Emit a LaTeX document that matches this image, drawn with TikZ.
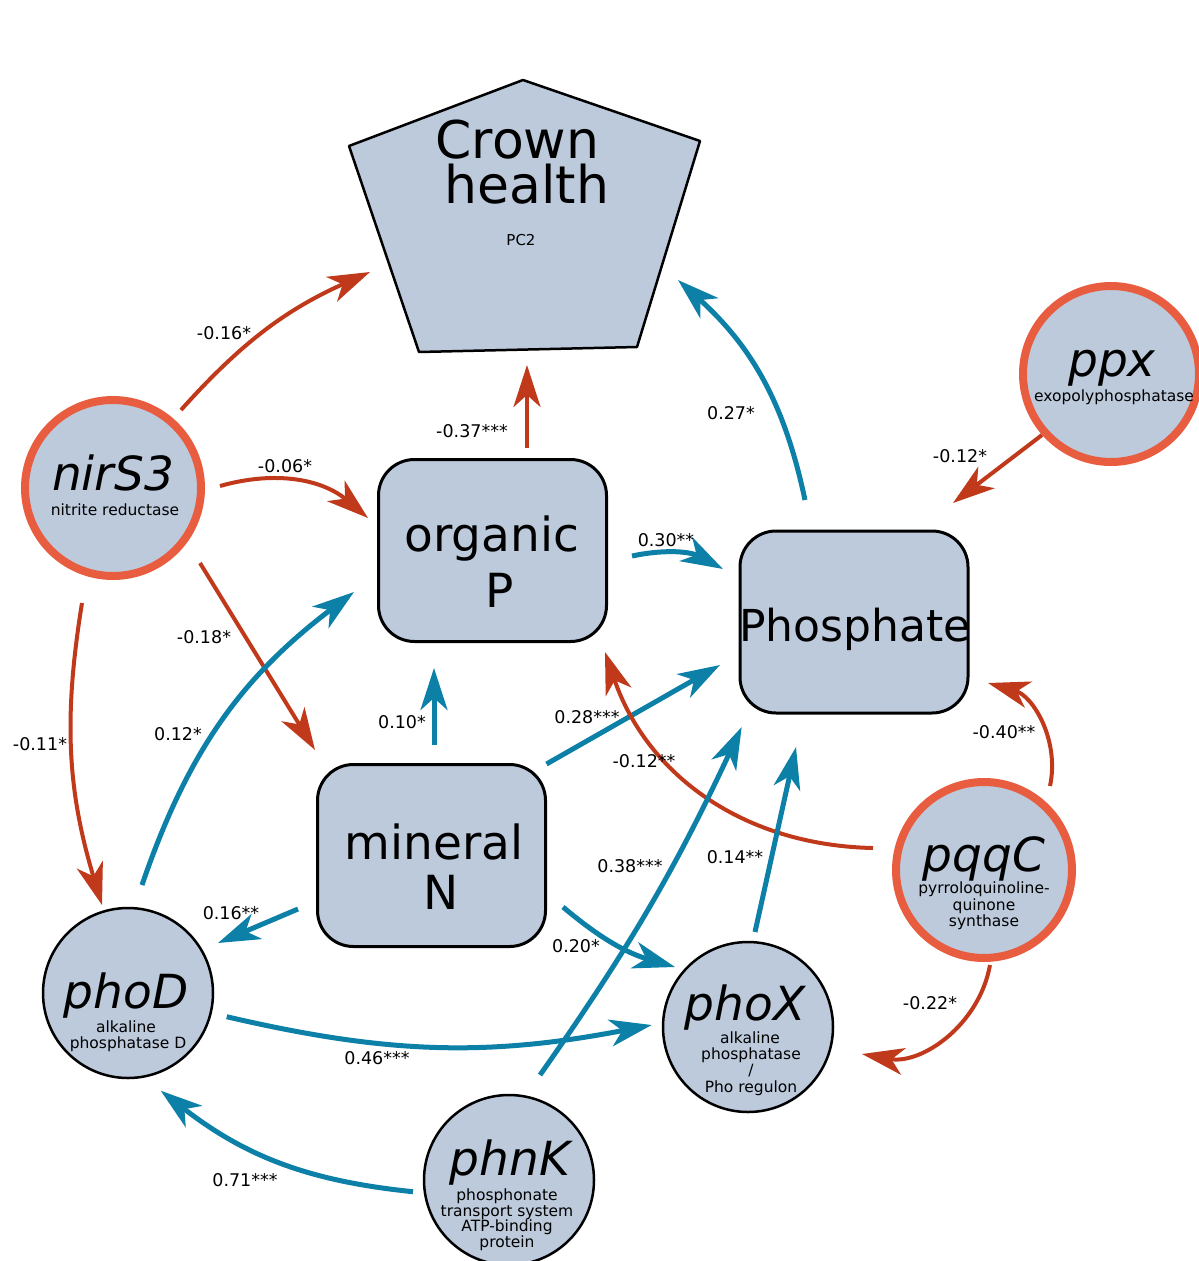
\documentclass[tikz,border=0pt]{standalone}
\usepackage{fontspec}
\setmainfont{DejaVu Sans}
\usetikzlibrary{arrows.meta,calc}
\definecolor{fillc}{HTML}{BCCADC}
\definecolor{ringc}{HTML}{E85D40}
\definecolor{redc}{HTML}{C0391B}
\definecolor{bluec}{HTML}{0D80A8}
\begin{document}
\begin{tikzpicture}[x=1pt,y=1pt,
  genenode/.style={circle,fill=fillc,draw=black,line width=2.5pt,minimum size=170pt,inner sep=0pt},
  ringnode/.style={circle,fill=fillc,draw=ringc,line width=8pt,minimum size=176pt,inner sep=0pt},
  varbox/.style={rectangle,rounded corners=36pt,fill=fillc,draw=black,line width=3pt,minimum width=228pt,minimum height=182pt,inner sep=0pt},
  gtitle/.style={font=\fontsize{47}{47}\selectfont\itshape,anchor=base,inner sep=0pt},
  gsub/.style={font=\fontsize{15.5}{16.5}\selectfont,anchor=base,inner sep=0pt},
  boxtxt/.style={font=\fontsize{47}{47}\selectfont,anchor=base,inner sep=0pt},
  elab/.style={font=\fontsize{17.5}{18}\selectfont,inner sep=0pt},
  tipstyle/.style={-{Stealth[length=42pt,width=27pt,inset=12pt]}},
  negarr/.style={draw=redc,line width=4pt,tipstyle},
  posarr/.style={draw=bluec,line width=5pt,tipstyle},
]
\useasboundingbox (0,0) rectangle (1199,-1261);

% Crown health pentagon
\coordinate (crown) at (525,-213);
\draw[fill=fillc,line width=2.5pt,line join=round] (523,-80) -- (700,-141) -- (637,-347) -- (419,-352) -- (349,-146) -- cycle;
\node[font=\fontsize{52}{52}\selectfont,anchor=base,inner sep=0pt] (crownA) at (517.5,-158) {Crown};
\node[font=\fontsize{52}{52}\selectfont,anchor=base,inner sep=0pt] (crownB) at (527,-203) {health};
\node[font=\fontsize{15}{15}\selectfont,anchor=base,inner sep=0pt] (pc2) at (521,-245) {PC2};

% gene nodes
\node[ringnode] (nirS3) at (113,-488) {};
\node[ringnode] (ppx) at (1111,-374) {};
\node[ringnode] (pqqC) at (984,-870) {};
\node[genenode] (phoD) at (128,-993) {};
\node[genenode] (phoX) at (748,-1027) {};
\node[genenode] (phnK) at (509,-1180) {};

% variable boxes
\node[varbox] (orgP) at (492.5,-550.5) {};
\node[varbox] (phos) at (854,-622) {};
\node[varbox] (minN) at (431.5,-855.5) {};

% texts
\node[gtitle] (t1) at (113,-490) {nirS3};
\node[gsub] (s1) at (115,-515) {nitrite reductase};
\node[gtitle] (t2) at (1112,-376.7) {ppx};
\node[gsub] (s2) at (1114,-401.7) {exopolyphosphatase};
\node[gtitle] (t3) at (984,-871.7) {pqqC};
\node[gsub] (s3a) at (984,-893.3) {pyrroloquinoline-};
\node[gsub] (s3b) at (984,-910) {quinone};
\node[gsub] (s3c) at (984,-926.7) {synthase};
\node[gtitle] (t4) at (126,-1008) {phoD};
\node[gsub] (s4a) at (126,-1032) {alkaline};
\node[gsub] (s4b) at (128,-1048.5) {phosphatase D};
\node[gtitle] (t5) at (745,-1020) {phoX};
\node[gsub] (s5a) at (750,-1043.3) {alkaline};
\node[gsub] (s5b) at (751,-1059.3) {phosphatase};
\node[gsub] (s5c) at (751,-1075) {/};
\node[gsub] (s5d) at (751,-1092.7) {Pho regulon};
\node[gtitle] (t6) at (510,-1175) {phnK};
\node[gsub] (s6a) at (507,-1200) {phosphonate};
\node[gsub] (s6b) at (507,-1216) {transport system};
\node[gsub] (s6c) at (507,-1231.7) {ATP-binding};
\node[gsub] (s6d) at (507,-1247.3) {protein};

\node[boxtxt] (o1) at (492,-551) {organic};
\node[boxtxt] (o2) at (500,-607) {P};
\node[boxtxt,font=\fontsize{44}{44}\selectfont] (p1) at (855,-641) {Phosphate};
\node[boxtxt] (m1) at (434,-859) {mineral};
\node[boxtxt] (m2) at (441,-909) {N};

% connectors
\draw[negarr] ($(nirS3)+(68,78)$) to[bend left=12] ($(crown)+(-155,-59)$);
\draw[negarr] ($(nirS3)+(107,2)$) to[bend left=28] ($(orgP)+(-124.5,32.5)$);
\draw[negarr] ($(nirS3)+(87,-75)$) -- ($(minN)+(-116.5,105.5)$);
\draw[negarr] ($(nirS3)+(-31,-115)$) to[bend right=13] ($(phoD)+(-26,88)$);
\draw[negarr] ($(orgP)+(34.5,102.5)$) -- ($(crown)+(2,-152)$);
\draw[posarr] ($(phos)+(-49,122)$) to[bend right=18] ($(crown)+(153,-67)$);
\draw[negarr] ($(ppx)+(-69,-61)$) -- ($(phos)+(99,119)$);
\draw[posarr] ($(orgP)+(139.5,-5.5)$) to[bend left=20] ($(phos)+(-131,53)$);
\draw[posarr] ($(minN)+(2.5,110.5)$) -- ($(orgP)+(-58.5,-117.5)$);
\draw[posarr] ($(phoD)+(14,108)$) to[bend left=17] ($(orgP)+(-138.5,-41.5)$);
\draw[posarr] ($(minN)+(115,91.5)$) -- ($(phos)+(-134,-43)$);
\draw[negarr] ($(pqqC)+(-111,22)$) to[bend left=35] ($(orgP)+(112.5,-101.5)$);
\draw[negarr] ($(pqqC)+(66,84)$) to[bend right=43] ($(phos)+(134,-61)$);
\draw[negarr] ($(pqqC)+(6,-95)$) to[bend left=45] ($(phoX)+(114,-27)$);
\draw[posarr] ($(phnK)+(31,105)$) to[bend right=5] ($(phos)+(-112.3,-105)$);
\draw[posarr] ($(phoX)+(7,95)$) -- ($(phos)+(-58,-125)$);
\draw[posarr] ($(minN)+(-133.5,-53.5)$) -- ($(phoD)+(90,50)$);
\draw[posarr] ($(minN)+(131.5,-51.5)$) to[bend right=12] ($(phoX)+(-73,60)$);
\draw[posarr] ($(phoD)+(98.7,-23.7)$) to[bend right=12] ($(phoX)+(-96.3,2)$);
\draw[posarr] ($(phnK)+(-96,-11.7)$) to[bend left=16] ($(phoD)+(32.7,-97.7)$);

% labels
\node[elab] (l1) at (224,-333) {-0.16*};
\node[elab] (l2) at (285,-466) {-0.06*};
\node[elab] (l3) at (204,-637) {-0.18*};
\node[elab] (l4) at (40,-744) {-0.11*};
\node[elab] (l5) at (472,-431) {-0.37***};
\node[elab] (l6) at (731,-413) {0.27*};
\node[elab] (l7) at (960,-456) {-0.12*};
\node[elab] (l8) at (666,-540) {0.30**};
\node[elab] (l9) at (402,-722) {0.10*};
\node[elab] (l10) at (178,-734) {0.12*};
\node[elab] (l11) at (587,-717) {0.28***};
\node[elab] (l12) at (644,-761) {-0.12**};
\node[elab] (l13) at (1004,-732) {-0.40**};
\node[elab] (l14) at (930,-1003) {-0.22*};
\node[elab] (l15) at (630,-866) {0.38***};
\node[elab] (l16) at (735,-857) {0.14**};
\node[elab] (l17) at (231,-913) {0.16**};
\node[elab] (l18) at (576,-946) {0.20*};
\node[elab] (l19) at (377,-1058) {0.46***};
\node[elab] (l20) at (245,-1180) {0.71***};
\end{tikzpicture}
\end{document}
